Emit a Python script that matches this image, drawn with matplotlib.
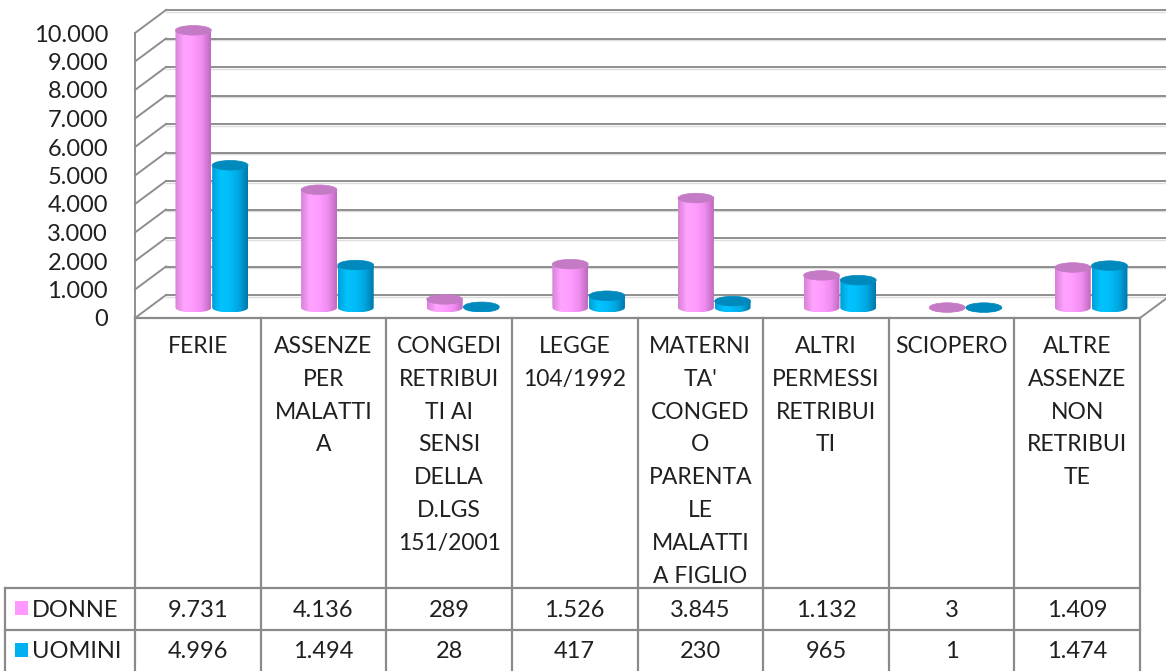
import numpy as np
import matplotlib
matplotlib.use('Agg')
from matplotlib import pyplot as plt
from matplotlib.patches import Polygon, Ellipse, Rectangle
from matplotlib.colors import LinearSegmentedColormap

categories = ["FERIE",
              "ASSENZE\nPER\nMALATTI\nA",
              "CONGEDI\nRETRIBUI\nTI AI\nSENSI\nDELLA\nD.LGS\n151/2001",
              "LEGGE\n104/1992",
              "MATERNI\nTA'\nCONGED\nO\nPARENTA\nLE\nMALATTI\nA FIGLIO",
              "ALTRI\nPERMESSI\nRETRIBUI\nTI",
              "SCIOPERO",
              "ALTRE\nASSENZE\nNON\nRETRIBUI\nTE"]
donne = [9731, 4136, 289, 1526, 3845, 1132, 3, 1409]
uomini = [4996, 1494, 28, 417, 230, 965, 1, 1474]
series_names = ["DONNE", "UOMINI"]
y_ticks = list(range(0, 10001, 1000))

FONT = ['Lato', 'DejaVu Sans']
FS = 16.5
FS_NUM = 17

W, H = 1166, 671
FX0, FX1 = 135, 1140      # front plane, px
FY0, FY1 = 318, 33        # front plane y of 0 and 10000, px
VMAX = 10000
ncat = len(categories)
colw = (FX1 - FX0) / ncat
px_per_val = (FY0 - FY1) / VMAX

# depth offset of the back wall, in data units
DX = 31 / colw
DY = 23 / px_per_val

pink_cmap = LinearSegmentedColormap.from_list('p', ['#D981D9', '#FFA4FF', '#FF9CFF', '#F08CF0', '#BE6ABE'])
blue_cmap = LinearSegmentedColormap.from_list('b', ['#009FD8', '#00C4FF', '#00BCF8', '#00A6E0', '#0078AA'])
styles = [(pink_cmap, '#C57AC5', '#FF99FF'), (blue_cmap, '#0089BD', '#00B0F0')]


def fmt(v):
    return "{:,}".format(v).replace(',', '.')


def draw_cylinder(ax, fig, xc, value, r, h, cmap, top_color, z):
    base = DY * 0.45
    top = base + value
    t = np.linspace(np.pi, 2 * np.pi, 50)
    bottom = np.column_stack([xc + r * np.cos(t), base + h * np.sin(t)])
    pts = np.vstack([[xc - r, top], bottom, [xc + r, top]])
    body = Polygon(pts, closed=True, facecolor='none', edgecolor='none', zorder=z)
    ax.add_patch(body)
    grad = np.linspace(0, 1, 100).reshape(1, -1)
    im = ax.imshow(grad, cmap=cmap, aspect='auto', extent=[xc - r, xc + r, base - h, top],
                   zorder=z, interpolation='bilinear')
    im.set_clip_box(fig.bbox)
    im.set_clip_path(body)
    cap = Ellipse((xc, top), 2 * r, 2 * h, facecolor=top_color, edgecolor=top_color,
                  lw=0.5, zorder=z + 0.1, clip_on=False)
    ax.add_patch(cap)


def plot_chart():
    fig = plt.figure(figsize=(W / 100, H / 100), dpi=100)

    tab = fig.add_axes([0, 0, 1, 1])
    tab.set_xlim(0, W)
    tab.set_ylim(H, 0)
    tab.axis('off')

    ax = fig.add_axes([FX0 / W, (H - FY0) / H, (FX1 - FX0) / W, (FY0 - FY1) / H])
    ax.patch.set_visible(False)
    for s in ax.spines.values():
        s.set_visible(False)

    grid_c = '#8E8E8E'
    # back wall + side wall
    for v in y_ticks:
        ax.plot([DX, ncat + DX + 1], [v + DY, v + DY], color=grid_c, lw=1.4, clip_on=False, zorder=1)
        ax.plot([DX, ncat + DX + 1], [v + DY - 60, v + DY - 60], color='#DDDDDD', lw=1.0, clip_on=False, zorder=0.9)
        ax.plot([0, DX], [v, v + DY], color=grid_c, lw=1.4, clip_on=False, zorder=1)
    ax.plot([0, 0], [0, VMAX], color=grid_c, lw=1.4, clip_on=False, zorder=1)
    ax.plot([ncat, ncat + DX], [0, DY], color=grid_c, lw=1.4, clip_on=False, zorder=1)

    # cylinders
    r = 0.143
    off = 0.146
    h = 4.8 / px_per_val
    for i in range(ncat):
        xc_mid = i + 0.5 + DX * 0.45
        for s, vals in enumerate([donne, uomini]):
            cmap, top_c, _ = styles[s]
            xc = xc_mid + (s - 0.5) * 2 * off
            draw_cylinder(ax, fig, xc, vals[i], r, h, cmap, top_c, 3 + i + s * 0.3)

    ax.set_xlim(0, ncat)
    ax.set_ylim(0, VMAX)
    ax.set_xticks([])
    ax.set_yticks(y_ticks)
    ax.set_yticklabels([fmt(v) for v in y_ticks], fontsize=FS_NUM, family=FONT, color='#202020')
    ax.tick_params(axis='y', length=0, pad=19.5)

    # data table
    line_c = '#8A8A8A'
    col_x = [FX0 + colw * i for i in range(ncat + 1)]
    row1, row2, row3 = 318, 588, 630
    tab.plot([FX0, FX1], [row1, row1], color=line_c, lw=1.6)
    tab.plot([5, FX1], [row2, row2], color=line_c, lw=1.6)
    tab.plot([5, FX1], [row3, row3], color=line_c, lw=1.6)
    for x in col_x:
        tab.plot([x, x], [row1, H + 2], color=line_c, lw=1.6)
    tab.plot([5, 5], [row2, H + 2], color=line_c, lw=1.6)

    for i, label in enumerate(categories):
        cx = (col_x[i] + col_x[i + 1]) / 2
        for j, line in enumerate(label.split('\n')):
            tab.text(cx, 353 + 32.8 * j, line, ha='center', va='baseline',
                     fontsize=FS, family=FONT, color='#202020')
        for k, vals in enumerate([donne, uomini]):
            tab.text(cx, 617 + 41.5 * k, fmt(vals[i]), ha='center', va='baseline',
                     fontsize=FS_NUM, family=FONT, color='#202020')

    for k, name in enumerate(series_names):
        yb = 617 + 41.5 * k
        tab.add_patch(Rectangle((15, yb - 16), 13, 14, facecolor=styles[k][2], edgecolor='none'))
        tab.text(32, yb, name, ha='left', va='baseline', fontsize=FS_NUM, family=FONT, color='#202020')

    fig.savefig('out.png', dpi=100)


if __name__ == "__main__":
    plot_chart()
